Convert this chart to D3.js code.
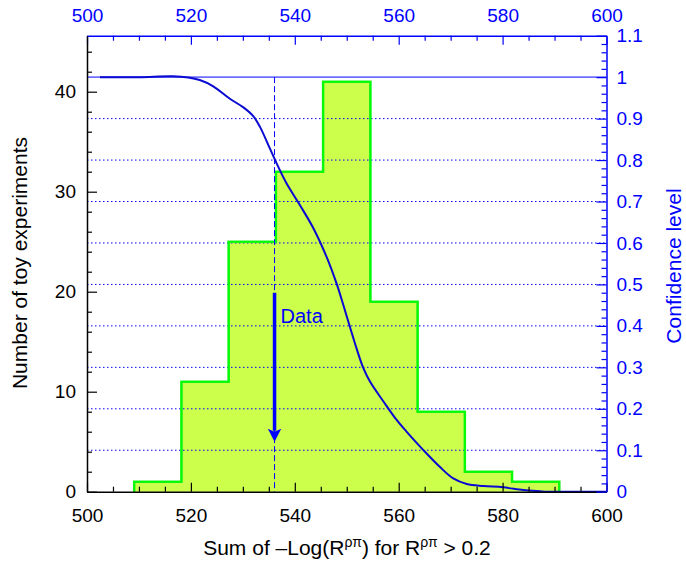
<!DOCTYPE html>
<html>
<head>
<meta charset="utf-8">
<script src="https://cdn.jsdelivr.net/npm/d3@7"></script>
<style>
  html, body { margin: 0; padding: 0; background: #fff; }
  svg { display: block; font-family: "Liberation Sans", Arial, Helvetica, sans-serif; }
</style>
</head>
<body>
<svg id="chart" width="686" height="567"></svg>
<script>
// ---------- data ----------
const binEdges = [500, 509.09, 518.18, 527.27, 536.36, 545.45, 554.55, 563.64, 572.73, 581.82, 590.91, 600];
const binCounts = [0, 1, 11, 25, 32, 41, 19, 8, 2, 1, 0];

const clX = [502.5, 510, 516.5, 519.5, 521.7, 524.3, 527.5, 530.1, 532.0, 533.3, 535.2, 536.5, 538.4, 541.0, 543.6, 546.1, 548.1, 549.3, 550.6, 551.9, 553.2, 554.5, 557.1, 559.6, 561.5, 564.7, 567.9, 570.5, 573.1, 576.3, 580.1, 584.0, 587.2, 588.5, 600];
const clY = [1.0, 1.0, 1.002, 0.999, 0.993, 0.978, 0.948, 0.927, 0.906, 0.880, 0.828, 0.792, 0.744, 0.691, 0.635, 0.567, 0.500, 0.452, 0.398, 0.345, 0.298, 0.265, 0.217, 0.173, 0.145, 0.101, 0.060, 0.032, 0.0186, 0.0137, 0.0106, 0.004, 0.001, 0, 0];

const dataValue = 536.1;
const arrowFrom = 19.9;
const arrowTo = 5.0;

const xTicks = [500, 520, 540, 560, 580, 600];
const countTicks = [0, 10, 20, 30, 40];
const clTicks = [0, 0.1, 0.2, 0.3, 0.4, 0.5, 0.6, 0.7, 0.8, 0.9, 1, 1.1];
const gridLevels = [0.1, 0.2, 0.3, 0.4, 0.5, 0.6, 0.7, 0.8, 0.9];

// ---------- layout ----------
const L = 87, R = 606.5, T = 35.7, B = 491.7;
const svg = d3.select("#chart");

const x = d3.scaleLinear().domain([500, 600]).range([L, R]);
const yC = d3.scaleLinear().domain([0, 45.6]).range([B, T]);
const yP = d3.scaleLinear().domain([0, 1.1]).range([B, T]);

const blue = "#0000ff";
const curveBlue = "#0a0ad2";

// ---------- histogram ----------
const histPts = [];
binCounts.forEach((c, i) => {
  if (c > 0) {
    histPts.push([binEdges[i], c]);
    histPts.push([binEdges[i + 1], c]);
  }
});
const firstEdge = binEdges[binCounts.findIndex(c => c > 0)];
const lastIdx = binCounts.length - 1 - [...binCounts].reverse().findIndex(c => c > 0);
const lastEdge = binEdges[lastIdx + 1];
const histPath = [[firstEdge, 0], ...histPts, [lastEdge, 0]];
const histLine = d3.line().x(d => x(d[0])).y(d => yC(d[1]));

svg.append("path")
  .attr("d", histLine(histPath) + "Z")
  .attr("fill", "#ccff4c")
  .attr("stroke", "none");

// ---------- grid ----------
svg.append("g").selectAll("line").data(gridLevels).join("line")
  .attr("x1", L).attr("x2", R)
  .attr("y1", d => yP(d)).attr("y2", d => yP(d))
  .attr("stroke", blue).attr("stroke-width", 1)
  .attr("stroke-dasharray", "1.5,2.5");

// histogram outline
svg.append("path")
  .attr("d", histLine(histPath))
  .attr("fill", "none")
  .attr("stroke", "#22ee22")
  .attr("stroke-width", 2.5);
svg.append("path")
  .attr("d", histLine(histPath))
  .attr("fill", "none")
  .attr("stroke", "#00ff00")
  .attr("stroke-width", 1.6);

// CL = 1 line
svg.append("line")
  .attr("x1", L).attr("x2", R)
  .attr("y1", yP(1)).attr("y2", yP(1))
  .attr("stroke", "#6f6fff").attr("stroke-width", 1.6);

// vertical dashed data line
svg.append("line")
  .attr("x1", x(dataValue)).attr("x2", x(dataValue))
  .attr("y1", yP(1)).attr("y2", B)
  .attr("stroke", blue).attr("stroke-width", 1)
  .attr("stroke-dasharray", "6,3");

// ---------- CL curve ----------
const clData = clX.map((v, i) => [v, clY[i]]);
svg.append("path")
  .attr("d", d3.line().x(d => x(d[0])).y(d => yP(d[1])).curve(d3.curveCatmullRom.alpha(0.5))(clData))
  .attr("fill", "none")
  .attr("stroke", curveBlue)
  .attr("stroke-width", 2);

// ---------- arrow ----------
const ax = x(dataValue);
const headLen = 13, headHalf = 6.7;
svg.append("line")
  .attr("x1", ax).attr("x2", ax)
  .attr("y1", yC(arrowFrom)).attr("y2", yC(arrowTo) - headLen + 2)
  .attr("stroke", blue).attr("stroke-width", 3.5);
svg.append("path")
  .attr("d", `M${ax},${yC(arrowTo)} L${ax - headHalf},${yC(arrowTo) - headLen} L${ax},${yC(arrowTo) - headLen + 3} L${ax + headHalf},${yC(arrowTo) - headLen} Z`)
  .attr("fill", blue);
svg.append("text")
  .attr("x", ax + 6).attr("y", yC(arrowFrom) + 30)
  .attr("fill", blue).attr("font-size", 20)
  .text("Data");

// ---------- axes ----------
function styleAxis(g, color) {
  g.select(".domain").attr("stroke", color).attr("stroke-width", 1.5);
  g.selectAll(".tick line").attr("stroke", color).attr("stroke-width", 1.2);
  g.selectAll("text").attr("fill", color).attr("font-size", 19)
    .attr("font-family", "'Liberation Sans', Arial, sans-serif");
}

const minorX = d3.range(500, 600.1, 5).filter(v => v % 20 !== 0);
const minorC = d3.range(0, 45.6, 2).filter(v => v % 10 !== 0);
const minorP = d3.range(0, 1.1001, 0.02).filter(v => Math.abs(Math.round(v * 10) - v * 10) > 1e-6);

// bottom
const gb = svg.append("g").attr("transform", `translate(0,${B})`)
  .call(d3.axisBottom(x).tickValues(xTicks).tickFormat(d3.format("d")).tickSizeInner(-9).tickSizeOuter(0).tickPadding(16.5));
styleAxis(gb, "#000");
const gbm = svg.append("g").attr("transform", `translate(0,${B})`)
  .call(d3.axisBottom(x).tickValues(minorX).tickFormat("").tickSizeInner(-5).tickSizeOuter(0));
styleAxis(gbm, "#000"); gbm.select(".domain").remove();

// top
const gt = svg.append("g").attr("transform", `translate(0,${T})`)
  .call(d3.axisTop(x).tickValues(xTicks).tickFormat(d3.format("d")).tickSizeInner(-9).tickSizeOuter(0).tickPadding(14));
styleAxis(gt, blue);
const gtm = svg.append("g").attr("transform", `translate(0,${T})`)
  .call(d3.axisTop(x).tickValues(minorX).tickFormat("").tickSizeInner(-5).tickSizeOuter(0));
styleAxis(gtm, blue); gtm.select(".domain").remove();

// left
const gl = svg.append("g").attr("transform", `translate(${L},0)`)
  .call(d3.axisLeft(yC).tickValues(countTicks).tickFormat(d3.format("d")).tickSizeInner(-10).tickSizeOuter(0).tickPadding(11));
styleAxis(gl, "#000");
const glm = svg.append("g").attr("transform", `translate(${L},0)`)
  .call(d3.axisLeft(yC).tickValues(minorC).tickFormat("").tickSizeInner(-5).tickSizeOuter(0));
styleAxis(glm, "#000"); glm.select(".domain").remove();

// right
const gr = svg.append("g").attr("transform", `translate(${R},0)`)
  .call(d3.axisRight(yP).tickValues(clTicks).tickFormat(d => d === 0 ? "0" : d === 1 ? "1" : d3.format(".1f")(d)).tickSizeInner(-10).tickSizeOuter(0).tickPadding(10));
styleAxis(gr, blue);
const grm = svg.append("g").attr("transform", `translate(${R},0)`)
  .call(d3.axisRight(yP).tickValues(minorP).tickFormat("").tickSizeInner(-5).tickSizeOuter(0));
styleAxis(grm, blue); grm.select(".domain").remove();

// ---------- titles ----------
svg.append("text")
  .attr("transform", `translate(27,263) rotate(-90)`)
  .attr("text-anchor", "middle").attr("font-size", 21).attr("fill", "#000")
  .text("Number of toy experiments");

svg.append("text")
  .attr("transform", `translate(681,266) rotate(-90)`)
  .attr("text-anchor", "middle").attr("font-size", 21).attr("fill", blue)
  .text("Confidence level");

const xt = svg.append("text")
  .attr("x", 347).attr("y", 555)
  .attr("text-anchor", "middle").attr("font-size", 21).attr("fill", "#000");
xt.append("tspan").text("Sum of \u2013Log(R");
xt.append("tspan").attr("dy", -8).attr("font-size", 14).text("\u03C1\u03C0");
xt.append("tspan").attr("dy", 8).text(") for R");
xt.append("tspan").attr("dy", -8).attr("font-size", 14).text("\u03C1\u03C0");
xt.append("tspan").attr("dy", 8).text(" > 0.2");
</script>
</body>
</html>
